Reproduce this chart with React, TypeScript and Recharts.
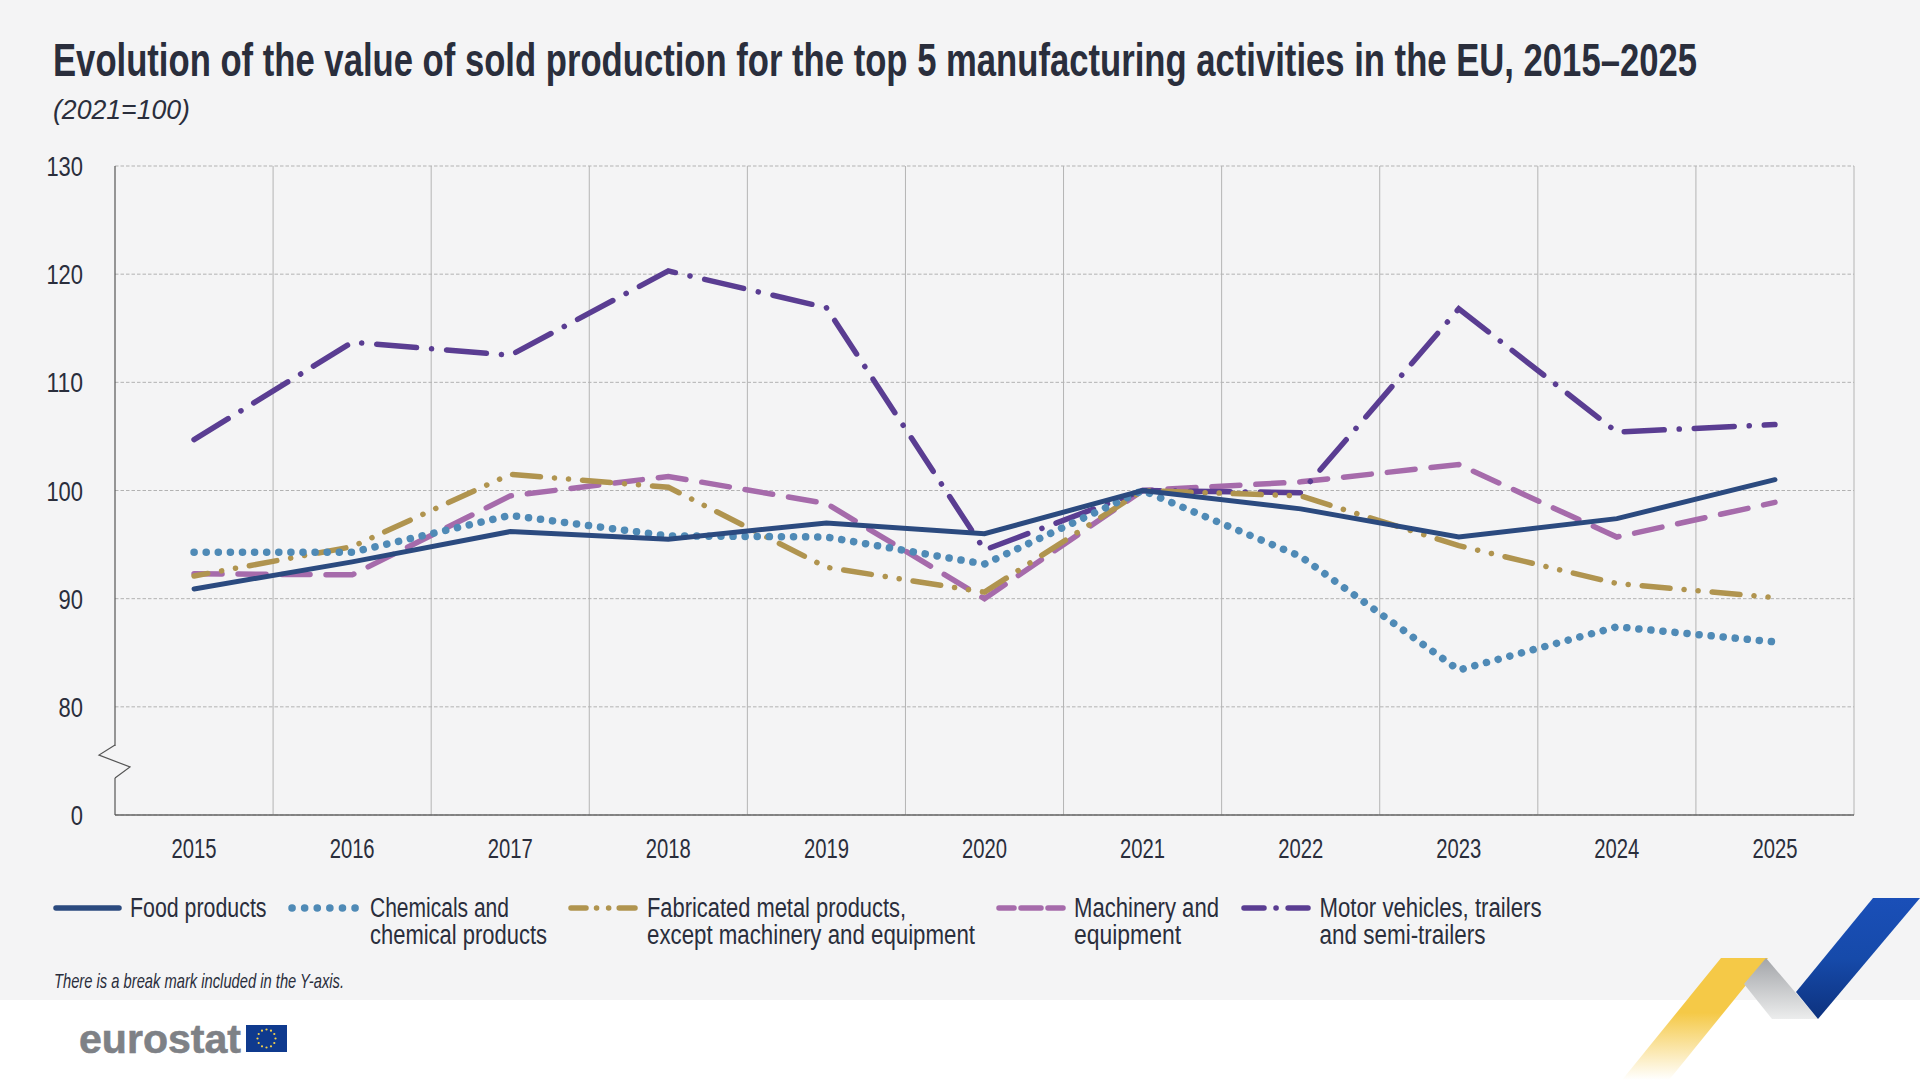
import { CartesianGrid, Legend, Line, LineChart, ReferenceLine, XAxis, YAxis } from "recharts";

const years = [2015, 2016, 2017, 2018, 2019, 2020, 2021, 2022, 2023, 2024, 2025];
const food = [90.9, 93.4, 96.2, 95.5, 97, 96, 100, 98.3, 95.7, 97.4, 101];
const chemicals = [94.3, 94.3, 97.7, 95.8, 95.7, 93.2, 100, 93.9, 83.4, 87.4, 86];
const metal = [92.1, 94.8, 101.5, 100.3, 92.9, 90.6, 100, 99.5, 94.9, 91.4, 90.1];
const machinery = [92.3, 92.2, 99.5, 101.3, 98.8, 90, 100, 100.8, 102.4, 95.7, 98.9];
const motor = [104.7, 113.7, 112.5, 120.3, 116.9, 94.5, 100, 99.8, 116.8, 105.4, 106.1];

const yTicks = [70, 80, 90, 100, 110, 120, 130];
const yearEdges = [2015.5, 2016.5, 2017.5, 2018.5, 2019.5, 2020.5, 2021.5, 2022.5, 2023.5, 2024.5, 2025.5];

const legendLabels = [
  ["Food products"],
  ["Chemicals and", "chemical products"],
  ["Fabricated metal products,", "except machinery and equipment"],
  ["Machinery and", "equipment"],
  ["Motor vehicles, trailers", "and semi-trailers"],
];

const data = years.map((year, i) => ({
  year,
  food: food[i],
  chemicals: chemicals[i],
  metal: metal[i],
  machinery: machinery[i],
  motor: motor[i],
}));

const FONT = '"Liberation Sans Narrow", "Liberation Sans", sans-serif';
const INK = "#2a2e3c";
const BG = "#f4f4f5";
const COLORS = { food: "#2b4a7f", chemicals: "#4f8ab6", metal: "#b0944f", machinery: "#a66bab", motor: "#5a3d92" };

// swatch geometry, same order as legendLabels
const legendLayout = [
  { x1: 56, x2: 119, textX: 130, color: COLORS.food, dash: undefined, widths: [136.5] },
  { x1: 292, x2: 356, textX: 370, color: COLORS.chemicals, dash: "0.1 12.5", widths: [139, 177] },
  { x1: 571, x2: 635, textX: 647, color: COLORS.metal, dash: "15 10.5 0.1 12 0.1 10.5 16", widths: [259, 328] },
  { x1: 999, x2: 1063, textX: 1074, color: COLORS.machinery, dash: "15 7 20 7 15", widths: [145, 107] },
  { x1: 1244, x2: 1308, textX: 1319.5, color: COLORS.motor, dash: "20 12 0.1 12 20", widths: [222, 166] },
];

function XTick({ x, payload }: any) {
  return (
    <text x={x} y={858} textAnchor="middle" fontFamily={FONT} fontSize={28} fill={INK} textLength={45} lengthAdjust="spacingAndGlyphs">
      {payload.value}
    </text>
  );
}

function YTick({ x, y, payload }: any) {
  const label = payload.value === 70 ? "0" : String(payload.value);
  return (
    <text x={x} y={y + 10} textAnchor="end" fontFamily={FONT} fontSize={28} fill={INK} textLength={label.length * 12.2} lengthAdjust="spacingAndGlyphs">
      {label}
    </text>
  );
}

function ChartLegend() {
  return (
    <svg width={1920} height={80} style={{ display: "block" }}>
      {legendLayout.map((item, i) => (
        <g key={i}>
          <line x1={item.x1} x2={item.x2} y1={28} y2={28} stroke={item.color} strokeWidth={i === 1 ? 7.5 : 5.5} strokeLinecap="round" strokeDasharray={item.dash} />
          {legendLabels[i].map((line, j) => (
            <text key={j} x={item.textX} y={37 + j * 27} fontFamily={FONT} fontSize={27} fill={INK} textLength={item.widths[j]} lengthAdjust="spacingAndGlyphs">
              {line}
            </text>
          ))}
        </g>
      ))}
    </svg>
  );
}

function Overlay() {
  const stars = Array.from({ length: 12 }, (_, i) => i * (Math.PI / 6));
  return (
    <svg width={1920} height={1080} style={{ position: "absolute", left: 0, top: 0, pointerEvents: "none" }}>
      <defs>
        <linearGradient id="yellowFade" x1="0" y1="0" x2="0" y2="1">
          <stop offset="0.45" stopColor="#f5c947" />
          <stop offset="1" stopColor="#f5c947" stopOpacity={0} />
        </linearGradient>
        <linearGradient id="greyFade" x1="0" y1="0" x2="0" y2="1">
          <stop offset="0" stopColor="#a3a5a9" />
          <stop offset="1" stopColor="#eceded" />
        </linearGradient>
        <linearGradient id="blueFade" x1="0" y1="0" x2="0" y2="1">
          <stop offset="0" stopColor="#1a4fb8" />
          <stop offset="0.5" stopColor="#164aaa" />
          <stop offset="1" stopColor="#0d327e" />
        </linearGradient>
      </defs>

      <text x={53} y={76} fontFamily={FONT} fontWeight={700} fontSize={46} fill={INK} textLength={1644} lengthAdjust="spacingAndGlyphs">
        Evolution of the value of sold production for the top 5 manufacturing activities in the EU, 2015–2025
      </text>
      <text x={53} y={119} fontFamily={FONT} fontStyle="italic" fontSize={27} fill={INK} textLength={137} lengthAdjust="spacingAndGlyphs">
        (2021=100)
      </text>

      {/* y axis break */}
      <rect x={112} y={746} width={6} height={32} fill={BG} />
      <path d="M115 745 L99 755 L130 767 L115 778" fill="none" stroke="#555" strokeWidth={1.2} />

      <text x={54} y={988} fontFamily={FONT} fontStyle="italic" fontSize={21} fill={INK} textLength={290} lengthAdjust="spacingAndGlyphs">
        There is a break mark included in the Y-axis.
      </text>

      <text x={79} y={1053} fontFamily='"Liberation Sans", sans-serif' fontWeight={700} fontSize={41} fill="#7e8186" stroke="#7e8186" strokeWidth={0.6} textLength={162} lengthAdjust="spacingAndGlyphs">
        eurostat
      </text>
      <rect x={246} y={1025} width={41} height={27} fill="#0f3a8e" />
      {stars.map((a, i) => (
        <circle key={i} cx={266.5 + Math.sin(a) * 9} cy={1038.5 + Math.cos(a) * 9} r={1.1} fill="#f6d24a" />
      ))}

      <polygon points="1721,958 1768,958 1669,1080 1622,1080" fill="url(#yellowFade)" />
      <polygon points="1766,958 1744,984 1772,1019 1818,1019" fill="url(#greyFade)" />
      <polygon points="1873,898 1920,898 1818,1019 1796,992" fill="url(#blueFade)" />
    </svg>
  );
}

export default function App() {
  return (
    <div style={{ position: "absolute", left: 0, top: 0, width: 1920, height: 1080, background: "#fff", overflow: "hidden" }}>
      <div style={{ position: "absolute", left: 0, top: 0, width: 1920, height: 1000, background: BG }} />
      <LineChart width={1920} height={1080} data={data} margin={{ top: 166, right: 66, bottom: 0, left: 0 }}>
        <CartesianGrid horizontal vertical={false} stroke="#b2b2b2" strokeDasharray="3.5 2" />
        {yearEdges.map((edge) => (
          <ReferenceLine key={edge} x={edge} stroke="#b4b4b4" strokeWidth={1} />
        ))}
        <XAxis
          dataKey="year"
          type="number"
          domain={[2014.5, 2025.5]}
          ticks={years}
          tick={<XTick />}
          tickLine={false}
          axisLine={{ stroke: "#666", strokeWidth: 1.5 }}
          height={185}
          interval={0}
        />
        <YAxis
          type="number"
          domain={[70, 130]}
          ticks={yTicks}
          width={115}
          tick={<YTick />}
          tickLine={false}
          tickMargin={26}
          axisLine={{ stroke: "#555", strokeWidth: 1.2 }}
          interval={0}
        />
        <Line dataKey="machinery" stroke={COLORS.machinery} strokeWidth={5.5} strokeLinecap="round" strokeDasharray="28 16" dot={false} isAnimationActive={false} />
        <Line dataKey="motor" stroke={COLORS.motor} strokeWidth={5.5} strokeLinecap="round" strokeDasharray="40 15 0.1 15" dot={false} isAnimationActive={false} />
        <Line dataKey="metal" stroke={COLORS.metal} strokeWidth={5.5} strokeLinecap="round" strokeDasharray="28 14 0.1 14 0.1 14" strokeDashoffset={14} dot={false} isAnimationActive={false} />
        <Line dataKey="chemicals" stroke={COLORS.chemicals} strokeWidth={7.5} strokeLinecap="round" strokeDasharray="0.1 12" dot={false} isAnimationActive={false} />
        <Line dataKey="food" stroke={COLORS.food} strokeWidth={5} strokeLinecap="round" dot={false} isAnimationActive={false} />
        <Legend content={<ChartLegend />} wrapperStyle={{ position: "absolute", left: 0, top: 880, width: 1920, height: 80 }} />
      </LineChart>
      <Overlay />
    </div>
  );
}
